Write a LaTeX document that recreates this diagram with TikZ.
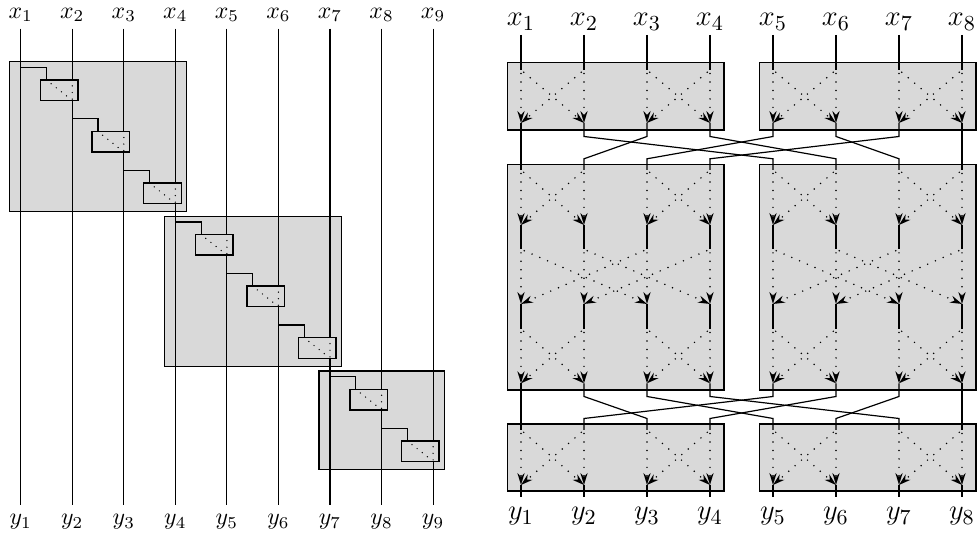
\documentclass[tikz,border=0pt]{standalone}
\usetikzlibrary{arrows.meta}
\begin{document}
\begin{tikzpicture}[x=0.42pt,y=-0.42pt,
  gatebox/.style={draw, line width=0.6pt, fill=black!15},
  wire/.style={line width=0.5pt},
  sdots/.style={line width=0.6pt, line cap=round, dash pattern=on 0pt off 2.75pt, shorten <=2.5pt, shorten >=0.5pt},
  bdots/.style={line width=0.7pt, line cap=round, dash pattern=on 0pt off 3.55pt, shorten <=1.5pt},
  arr/.style={-{Stealth[length=5pt,width=3pt,inset=1.6pt]}},
  lbl/.style={anchor=base, inner sep=0pt},
  rlbl/.style={lbl, font=\fontsize{13}{15}\selectfont}]
\useasboundingbox (0,0) rectangle (977,538);

% ---------------- left picture ----------------
\foreach \k in {1,...,9}{
  \pgfmathsetmacro\cx{20.7+(\k-1)*51.55}
  \node[lbl] (x\k) at (\cx,18.3) {$x_{\k}$};
  \node[lbl] (y\k) at (\cx,525) {$y_{\k}$};
  \coordinate (lt\k) at (\cx,28.7);
  \coordinate (lb\k) at (\cx,505);
}
\draw[gatebox] (9.7,61.7) rectangle (186.7,211.6);
\draw[gatebox] (164.35,216.35) rectangle (341.5,366.25);
\draw[gatebox] (319,371) rectangle (444.6,469.35);
\foreach \k in {1,...,9} \draw[wire] (lt\k) -- (lb\k);
\foreach \m in {1,...,8}{
  \pgfmathsetmacro\sy{67.3+(\m-1)*51.55}
  \pgfmathsetmacro\ca{20.7+(\m-1)*51.55}
  \pgfmathsetmacro\cb{\ca+51.55}
  \pgfmathsetmacro\ce{\ca+25.8}
  \pgfmathsetmacro\gt{\sy+12.7}
  \pgfmathsetmacro\gb{\sy+33.2}
  \coordinate (st\m) at (\ca,\sy);
  \coordinate (gi\m) at (\ce,\gt);
  \coordinate (gj\m) at (\cb,\gt);
  \coordinate (go\m) at (\cb,\gb);
  \draw[wire] (st\m) -| (gi\m);
  \draw[gatebox] (\cb-31.6,\gt) rectangle (\cb+5.9,\gb);
  \draw[sdots] (gi\m) -- (go\m);
  \draw[sdots] (gj\m) -- (go\m);
}

% ---------------- right picture ----------------
\foreach \k in {1,...,8}{
  \pgfmathsetmacro\rx{521+(\k-1)*63}
  \node[rlbl] (X\k) at (\rx,26) {$x_{\k}$};
  \node[rlbl] (Y\k) at (\rx,520) {$y_{\k}$};
  \coordinate (rt\k) at (\rx,35);
  \coordinate (rb\k) at (\rx,497);
  \coordinate (ua\k) at (\rx,136.5);
  \coordinate (ub\k) at (\rx,158.8);
  \coordinate (va\k) at (\rx,396.5);
  \coordinate (vb\k) at (\rx,418.5);
  \foreach \s/\sv/\tv in {1/70/123,2/170/225,3/249.3/304,4/329/383.3,5/430/485}{
    \coordinate (S\s-\k) at (\rx,\sv);
    \coordinate (T\s-\k) at (\rx,\tv);
  }
}
\foreach \ya/\yb in {62.7/130,164.3/390,424/491}{
  \draw[gatebox] (507.5,\ya) rectangle (723.8,\yb);
  \draw[gatebox] (759.5,\ya) rectangle (975.8,\yb);
}
\foreach \k in {1,...,8}{
  \draw[wire] (rt\k) -- (S1-\k);
  \draw[wire] (T2-\k) -- (S3-\k);
  \draw[wire] (T3-\k) -- (S4-\k);
  \draw[wire] (T5-\k) -- (rb\k);
}
\foreach \i/\j in {1/1,2/5,3/2,4/6,5/3,6/7,7/4,8/8}
  \draw[wire] (T1-\i) -- (ua\i) -- (ub\j) -- (S2-\j);
\foreach \i/\j in {1/1,2/3,3/5,4/7,5/2,6/4,7/6,8/8}
  \draw[wire] (T4-\i) -- (va\i) -- (vb\j) -- (S5-\j);

\foreach \s in {1,2,4,5}{
  \foreach \a/\b in {1/2,2/1,3/4,4/3,5/6,6/5,7/8,8/7}
    \draw[bdots,arr] (S\s-\b) -- (T\s-\a);
  \foreach \k in {1,...,8}
    \draw[bdots,arr] (S\s-\k) -- (T\s-\k);
}
\foreach \a/\b in {1/3,3/1,2/4,4/2,5/7,7/5,6/8,8/6}
  \draw[bdots,arr] (S3-\b) -- (T3-\a);
\foreach \k in {1,...,8}
  \draw[bdots,arr] (S3-\k) -- (T3-\k);
\end{tikzpicture}
\end{document}
